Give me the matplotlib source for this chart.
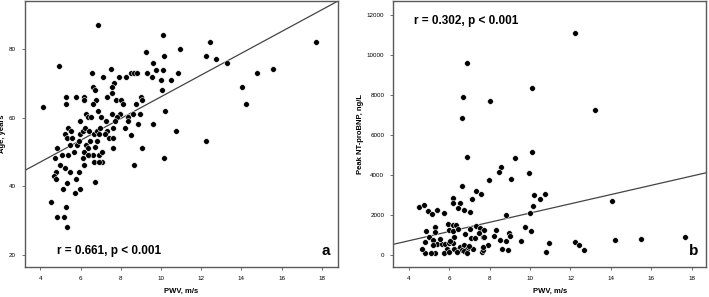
import numpy as np
import matplotlib
matplotlib.use("Agg")
import matplotlib.pyplot as plt

plt.rcParams["font.family"] = ["Liberation Sans", "DejaVu Sans"]

# Panel a: PWV (m/s) vs age (years)
pwv_a = [4.12, 4.95, 6.89, 10.1, 12.46, 17.7, 10.95, 9.26, 10.14, 12.23,
         12.73, 13.26, 9.6, 9.77, 10.09, 10.85, 9.31, 9.56, 9.98, 10.49,
         10.03, 10.2, 10.75, 9.6, 9.07, 12.24, 14.05, 14.25, 14.78, 15.56,
         6.56, 7.49, 7.13, 7.93, 8.27, 8.5, 8.65, 8.8, 7.67, 7.54,
         6.64, 6.74, 5.29, 5.76, 6.17, 6.17, 6.76, 7.33, 7.57, 7.77,
         8.0, 8.12, 8.76, 9.0, 9.06, 5.28, 6.62, 6.89, 6.29, 7.54,
         7.98, 8.61, 8.94, 6.36, 6.54, 7.03, 7.82, 8.36, 5.96, 7.27,
         7.73, 8.36, 8.86, 5.38, 5.53, 5.23, 5.31, 5.58, 5.98, 6.11,
         6.21, 6.44, 6.67, 6.8, 6.94, 6.97, 7.3, 7.23, 7.43, 7.63,
         7.63, 8.23, 8.5, 5.83, 6.27, 6.47, 6.8, 5.48, 5.94, 4.82,
         7.63, 6.39, 6.74, 4.73, 5.08, 5.39, 5.68, 6.14, 6.41, 6.64,
         6.92, 7.05, 6.69, 7.05, 6.19, 4.98, 5.21, 5.46, 4.77, 4.68,
         4.77, 5.78, 5.94, 5.31, 6.74, 5.13, 5.98, 5.71, 4.53, 5.29,
         4.83, 5.16, 5.31, 8.65, 10.17, 6.16, 6.39, 6.92]
age_a = [63.1, 75.1, 87.0, 84.0, 82.0, 82.0, 80.0, 79.0, 78.0, 78.0,
         77.0, 76.0, 76.0, 74.0, 74.0, 73.0, 73.0, 72.0, 71.0, 71.0,
         68.0, 62.0, 56.1, 58.1, 51.1, 53.1, 69.0, 64.1, 73.1, 74.1,
         73.1, 74.1, 72.0, 72.0, 72.0, 73.0, 73.0, 73.0, 70.1, 69.0,
         69.0, 68.1, 66.1, 66.1, 66.1, 65.2, 65.2, 66.1, 67.1, 65.2,
         65.2, 64.1, 64.1, 66.1, 65.2, 64.1, 64.1, 62.0, 61.1, 61.1,
         61.1, 61.1, 61.1, 60.1, 60.1, 60.1, 60.1, 60.1, 59.1, 59.1,
         59.1, 59.1, 58.2, 57.1, 56.1, 55.2, 54.2, 54.2, 55.2, 56.1,
         57.1, 56.1, 55.2, 56.1, 55.2, 57.1, 56.1, 55.2, 54.2, 57.1,
         54.2, 57.1, 55.1, 52.1, 52.1, 53.1, 53.1, 52.1, 53.1, 51.1,
         51.1, 51.1, 51.6, 48.2, 49.1, 49.1, 50.1, 48.2, 49.1, 49.1,
         49.1, 50.1, 47.1, 47.1, 46.1, 46.1, 45.2, 44.1, 44.1, 43.1,
         42.2, 42.2, 44.1, 41.1, 41.2, 39.2, 39.2, 38.1, 35.3, 34.1,
         31.2, 31.2, 28.2, 46.1, 48.2, 50.1, 49.1, 47.2]
fit_a = (34.4, 3.17)   # intercept, slope

# Panel b: PWV (m/s) vs peak NT-proBNP (ng/L)
pwv_b = [12.22, 6.87, 6.67, 8.01, 6.62, 10.09, 13.22, 10.09, 6.9, 9.28,
         8.58, 8.46, 9.96, 9.06, 7.96, 6.64, 7.33, 7.56, 10.19, 10.75,
         10.49, 7.13, 6.18, 6.18, 6.54, 6.46, 6.74, 7.05, 10.15, 10.0,
         8.8, 14.03, 4.52, 4.74, 4.96, 5.17, 5.39, 5.73, 4.84, 5.3,
         5.3, 5.93, 6.18, 6.34, 5.98, 6.21, 6.44, 6.23, 7.03, 7.32,
         7.55, 7.74, 7.08, 6.79, 7.5, 7.69, 7.3, 8.32, 8.24, 8.5,
         8.97, 9.03, 9.74, 10.05, 9.54, 8.82, 7.91, 5.0, 4.82, 5.19,
         5.39, 5.2, 5.63, 5.8, 5.98, 5.88, 6.18, 6.38, 6.54, 6.72,
         6.64, 6.9, 7.17, 6.72, 6.23, 4.82, 5.3, 5.12, 4.64, 5.76,
         6.0, 6.39, 6.9, 7.61, 7.69, 8.6, 8.93, 10.81, 10.93, 12.2,
         12.42, 12.68, 14.21, 15.5, 17.66, 7.73, 7.69, 5.55, 6.05, 7.0]
bnp_b = [11117, 9617, 7933, 7717, 6883, 8367, 7250, 5167, 4883, 4833,
         4383, 4133, 4083, 3817, 3733, 3450, 3200, 3067, 3000, 3050,
         2817, 2783, 2833, 2583, 2617, 2333, 2250, 2133, 2433, 2083,
         1983, 2683, 2383, 2483, 2200, 2033, 2250, 2083, 1200, 1417,
         1150, 1550, 1517, 1500, 1250, 1217, 1283, 883, 1300, 1450,
         1367, 1250, 867, 1033, 1083, 883, 850, 1233, 967, 767,
         1100, 933, 1417, 1217, 700, 683, 517, 917, 667, 750,
         533, 500, 533, 550, 617, 300, 583, 250, 417, 500,
         250, 300, 317, 200, 283, 100, 100, 100, 283, 100,
         167, 133, 100, 167, 250, 300, 267, 167, 617, 633,
         517, 267, 750, 817, 883, 917, 383, 800, 700, 450]
fit_b = (-215, 231.6)

FRAME = "#5a5a5a"


def panel(ax, x, y, fit, xlim, ylim, yticks, ylabel, stat, stat_pos, letter):
    ax.scatter(x, y, s=17, c="black", edgecolors="white", linewidths=0.4,
               zorder=3)
    xs = np.array(xlim)
    ax.plot(xs, fit[0] + fit[1] * xs, color="#444444", lw=0.9, zorder=2)
    ax.set_xlim(xlim)
    ax.set_ylim(ylim)
    ax.set_xticks(range(4, 19, 2))
    ax.set_yticks(yticks)
    ax.tick_params(labelsize=4.5, length=2.5, width=0.6, color=FRAME, pad=4)
    for sp in ax.spines.values():
        sp.set_color(FRAME)
        sp.set_linewidth(1.0)
    ax.set_xlabel("PWV, m/s", fontsize=5.5, fontweight="bold", labelpad=5)
    ax.set_ylabel(ylabel, fontsize=5.5, fontweight="bold", labelpad=2)
    ax.text(stat_pos[0], stat_pos[1], stat, transform=ax.transAxes,
            fontsize=8.5, fontweight="bold", va="center", ha="left")
    ax.text(0.975, 0.06, letter, transform=ax.transAxes, fontsize=11,
            fontweight="bold", va="center", ha="right")


fig = plt.figure(figsize=(7.09, 2.97), dpi=100)
ax1 = fig.add_axes([0.0353, 0.101, 0.4414, 0.8956])
ax2 = fig.add_axes([0.5547, 0.101, 0.4411, 0.8956])

panel(ax1, pwv_a, age_a, fit_a, (3.24, 18.8), (16.5, 94),
      [20, 40, 60, 80], "Age, years", "r = 0.661, p < 0.001",
      (0.102, 0.06), "a")
panel(ax2, pwv_b, bnp_b, fit_b, (3.24, 18.7), (-600, 12715),
      range(0, 12001, 2000), "Peak NT-proBNP, ng/L", "r = 0.302, p < 0.001",
      (0.067, 0.925), "b")

fig.savefig("out.png", dpi=100)
